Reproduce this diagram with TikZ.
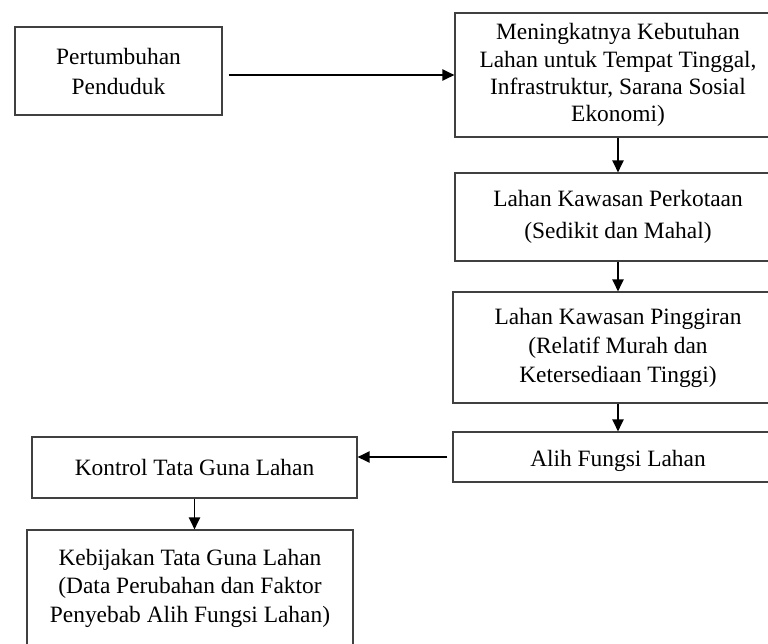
\documentclass[tikz,border=0pt]{standalone}
\usepackage{fontspec}
\setmainfont{Liberation Serif}
\usetikzlibrary{arrows.meta}
\begin{document}
\begin{tikzpicture}[x=0.5pt,y=-0.5pt,
        kotak/.style={draw=black!75,line width=0.6pt,align=center,inner sep=0pt,
            font=\fontsize{11.7}{14.5}\selectfont},
        panah/.style={line width=0.9pt,-{Triangle[length=6pt,width=5.6pt]}}]
    \useasboundingbox (0,0) rectangle (768,644);
    \node[kotak,minimum width=103.5pt,minimum height=44pt,font=\fontsize{11.7}{15}\selectfont] (tumbuh) at (118.5,71) {Pertumbuhan\\Penduduk};
    \node[kotak,minimum width=163pt,minimum height=62pt,font=\fontsize{11.7}{13.6}\selectfont] (butuh) at (618,75) {Meningkatnya Kebutuhan\\Lahan untuk Tempat Tinggal,\\Infrastruktur, Sarana Sosial\\Ekonomi)};
    \node[kotak,minimum width=163pt,minimum height=44pt,font=\fontsize{11.7}{16}\selectfont] (kota) at (618,217) {Lahan Kawasan Perkotaan\\(Sedikit dan Mahal)};
    \node[kotak,minimum width=165pt,minimum height=55.5pt] (pinggir) at (618,347.5) {Lahan Kawasan Pinggiran\\(Relatif Murah dan\\Ketersediaan Tinggi)};
    \node[kotak,minimum width=165pt,minimum height=25pt,text height=11pt,text depth=2pt] (alih) at (618,457) {Alih Fungsi Lahan};
    \node[kotak,minimum width=162.5pt,minimum height=30.5pt] (kontrol) at (194.5,467.5) {Kontrol Tata Guna Lahan};
    \node[kotak,minimum width=163pt,minimum height=58pt,font=\fontsize{11.7}{14.25}\selectfont] (bijak) at (190,588) {Kebijakan Tata Guna Lahan\\(Data Perubahan dan Faktor\\Penyebab Alih Fungsi Lahan)};
    % panah
    \draw[panah,shorten <=3pt] (tumbuh.east |- butuh.west) -- (butuh.west);
    \draw[panah] (butuh.south) -- (kota.north);
    \draw[panah] (kota.south) -- (pinggir.north);
    \draw[panah] (pinggir.south) -- (alih.north);
    \draw[panah,shorten <=2.5pt] (alih.west) -- (alih.west -| kontrol.east);
    \draw[panah] (kontrol.south) -- (kontrol.south |- bijak.north);
\end{tikzpicture}
\end{document}
